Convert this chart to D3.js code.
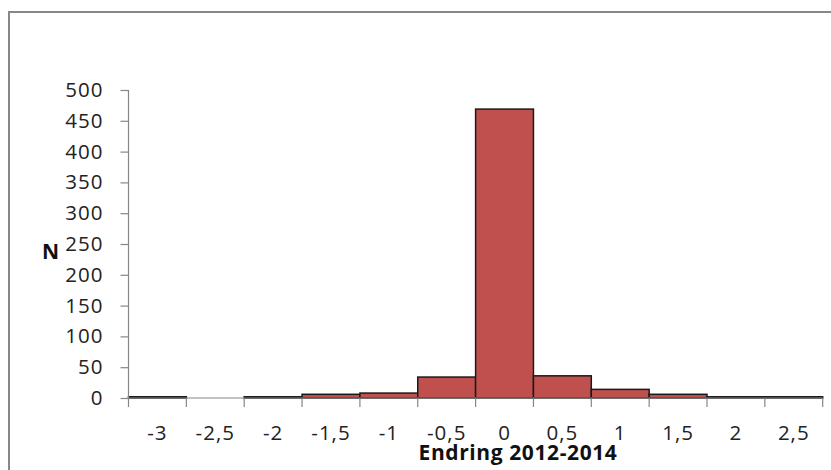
<!DOCTYPE html>
<html><head><meta charset="utf-8">
<script src="https://cdn.jsdelivr.net/npm/d3@7"></script>
<style>html,body{margin:0;padding:0;background:#fff;}svg{display:block;}</style>
</head><body>
<svg id="c" width="831" height="470"></svg>
<script>
const binLabels = ["-3","-2,5","-2","-1,5","-1","-0,5","0","0,5","1","1,5","2","2,5"];
const counts = [2,0,2,6,8,34,469,36,14,6,2,2];
const yTicks = [0,50,100,150,200,250,300,350,400,450,500];
const xTitle = "Endring 2012-2014";
const yTitle = "N";

(function(){
const svg = d3.select("#c");
const font = "'Open Sans', Lato, sans-serif";

// outer chart border
svg.append("rect").attr("x",9).attr("y",12).attr("width",900).attr("height",600)
  .attr("fill","#fff").attr("stroke","#878787").attr("stroke-width",2);

const pL = 128.5, pR = 822.7, pT = 90, pB = 398;
const x = d3.scaleBand().domain(binLabels).range([pL, pR]).padding(0);
const y = d3.scaleLinear().domain([0,500]).range([pB, pT]);

// bars
svg.append("g").selectAll("rect").data(binLabels.map((b,i)=>({b,v:counts[i]})).filter(d=>d.v>0))
  .join("rect")
  .attr("x", d=>x(d.b)).attr("width", x.bandwidth())
  .attr("y", d=>y(d.v)).attr("height", d=>pB - y(d.v))
  .attr("fill","#C0504D").attr("stroke","#1a1a1a").attr("stroke-width",1.5);

// y axis
const ya = svg.append("g").attr("transform",`translate(${pL},0)`)
  .call(d3.axisLeft(y).tickValues(yTicks).tickSize(8).tickPadding(17).tickFormat(d3.format("d")));
ya.select(".domain").attr("stroke","#868686").attr("stroke-width",1.2).attr("d",`M0,${pT}V${pB}`);
ya.selectAll(".tick line").attr("stroke","#868686").attr("stroke-width",1.2);
ya.selectAll("text").attr("font-family",font).attr("font-size",20.5).attr("letter-spacing",1).attr("fill","#222");

// x axis
const xa = svg.append("g").attr("transform",`translate(0,${pB})`)
  .call(d3.axisBottom(x).tickSize(0).tickPadding(27));
xa.select(".domain").attr("stroke","#868686").attr("stroke-width",1.2).attr("d",`M${pL},0H${pR}`);
xa.selectAll("text").attr("font-family",font).attr("font-size",20.5).attr("letter-spacing",1).attr("fill","#222");
const edges = binLabels.map(b=>x(b)).concat([pR]);
xa.selectAll("line.edge").data(edges).join("line").attr("class","edge")
  .attr("x1",d=>d).attr("x2",d=>d).attr("y1",0).attr("y2",9)
  .attr("stroke","#868686").attr("stroke-width",1.2);

// titles
svg.append("text").attr("x",518).attr("y",460).attr("text-anchor","middle")
  .attr("font-family",font).attr("font-weight","bold").attr("font-size",21).attr("letter-spacing",0.6).attr("fill","#111").text(xTitle);
svg.append("text").attr("x",50.5).attr("y",259).attr("text-anchor","middle")
  .attr("font-family",font).attr("font-weight","bold").attr("font-size",21).attr("fill","#111").text(yTitle);
})();
</script>
</body></html>
